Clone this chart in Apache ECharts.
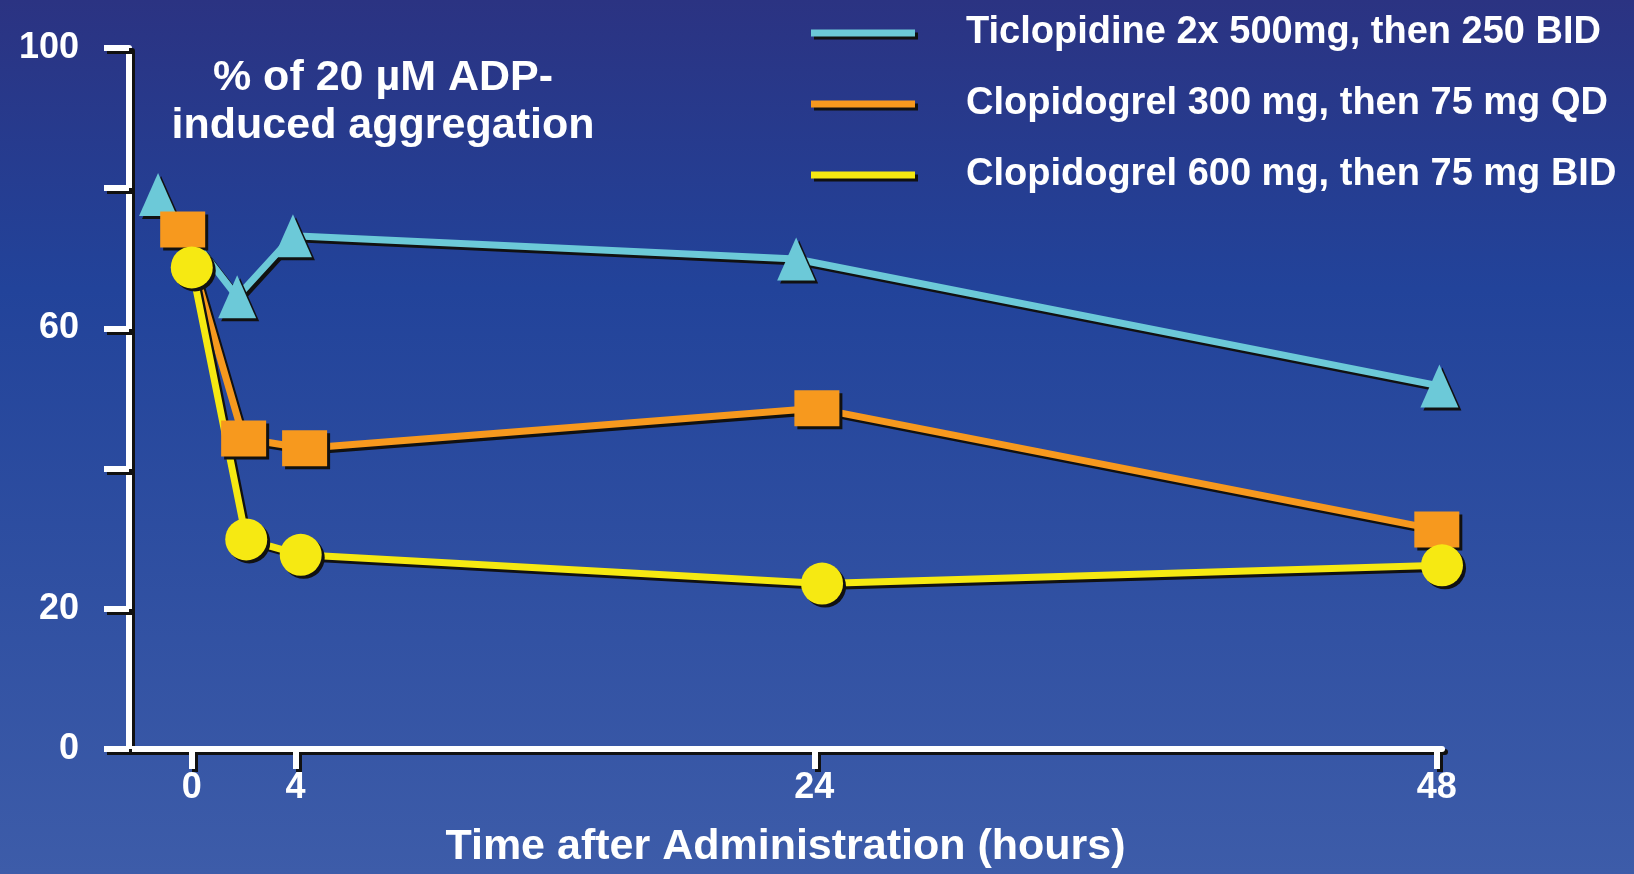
<!DOCTYPE html>
<html>
<head>
<meta charset="utf-8">
<script src="https://cdn.jsdelivr.net/npm/echarts@6/dist/echarts.min.js"></script>
<style>
  html, body { margin: 0; padding: 0; }
  #main { width: 1634px; height: 874px; }
</style>
</head>
<body>
<div id="main"></div>
<script>
// data (markers at each time point are slightly offset in x)
var seriesNames = [
    'Ticlopidine 2x 500mg, then 250 BID',
    'Clopidogrel 300 mg, then 75 mg QD',
    'Clopidogrel 600 mg, then 75 mg BID'
];
var ticloHours = [-1.3, 1.75, 3.9, 23.3, 48.1];
var ticloValues = [79.1, 64.5, 73.2, 69.9, 51.8];
var clopi300Hours = [-0.35, 2.0, 4.35, 24.1, 48.0];
var clopi300Values = [74.1, 44.3, 42.9, 48.6, 31.3];
var clopi600Hours = [0, 2.1, 4.2, 24.3, 48.2];
var clopi600Values = [68.7, 29.9, 27.7, 23.6, 26.2];
var xTicks = [0, 4, 24, 48];
var yLabelTicks = [0, 20, 60, 100];

function pairs(xs, ys) {
    return xs.map(function (x, i) { return [x, ys[i]]; });
}

var shadow = { shadowColor: '#111', shadowBlur: 0, shadowOffsetX: 3, shadowOffsetY: 3 };
var textShadow = { textShadowColor: '#111', textShadowBlur: 0, textShadowOffsetX: 2, textShadowOffsetY: 2 };
var boldFont = "'Liberation Sans', Arial, sans-serif";

function lineSeries(name, color, symbol, size, data) {
    return {
        name: name,
        type: 'line',
        data: data,
        clip: false,
        symbol: symbol,
        symbolSize: size,
        lineStyle: Object.assign({ color: color, width: 7 }, shadow),
        itemStyle: Object.assign({ color: color, opacity: 1 }, shadow)
    };
}

var myChart = echarts.init(document.getElementById('main'));
myChart.setOption({
    backgroundColor: {
        type: 'linear', x: 0, y: 0, x2: 0, y2: 1,
        colorStops: [
            { offset: 0, color: '#2b3382' },
            { offset: 0.33, color: '#22439a' },
            { offset: 1, color: '#3d5ca9' }
        ]
    },
    animation: false,
    title: {
        text: '% of 20 µM ADP-\ninduced aggregation',
        left: 378,
        top: 49,
        textAlign: 'center',
        textStyle: Object.assign({
            color: '#fff', fontFamily: boldFont, fontWeight: 'bold',
            fontSize: 43, lineHeight: 48
        }, textShadow)
    },
    legend: {
        data: seriesNames,
        orient: 'vertical',
        left: 806,
        top: 8,
        icon: 'rect',
        itemWidth: 104,
        itemHeight: 7,
        itemGap: 31,
        itemStyle: shadow,
        textStyle: Object.assign({
            color: '#fff', fontFamily: boldFont, fontWeight: 'bold',
            fontSize: 38, lineHeight: 40, padding: [0, 0, 0, 46]
        }, textShadow)
    },
    grid: { left: 129, right: 192, top: 48, bottom: 122 },
    xAxis: {
        type: 'value',
        min: -2.42,
        max: 48.2,
        splitLine: { show: false },
        name: 'Time after Administration (hours)',
        nameLocation: 'middle',
        nameGap: 77,
        nameTextStyle: Object.assign({
            color: '#fff', fontFamily: boldFont, fontWeight: 'bold', fontSize: 43
        }, textShadow),
        axisLine: { lineStyle: Object.assign({ color: '#fff', width: 6 }, shadow) },
        axisTick: {
            customValues: xTicks, length: 20,
            lineStyle: Object.assign({ color: '#fff', width: 6 }, shadow)
        },
        axisLabel: Object.assign({
            customValues: xTicks, margin: 21,
            color: '#fff', fontFamily: boldFont, fontWeight: 'bold', fontSize: 36
        }, textShadow)
    },
    yAxis: {
        type: 'value',
        min: 0,
        max: 100,
        interval: 20,
        splitLine: { show: false },
        axisLine: { show: true, onZero: false, lineStyle: Object.assign({ color: '#fff', width: 6 }, shadow) },
        axisTick: {
            show: true, length: 25,
            lineStyle: Object.assign({ color: '#fff', width: 6 }, shadow)
        },
        axisLabel: Object.assign({
            customValues: yLabelTicks, margin: 50,
            padding: [0, 0, 8, 0],
            color: '#fff', fontFamily: boldFont, fontWeight: 'bold', fontSize: 36
        }, textShadow)
    },
    series: [
        lineSeries(seriesNames[0], '#6cc9d8', 'triangle', [38, 43], pairs(ticloHours, ticloValues)),
        lineSeries(seriesNames[1], '#f7991e', 'rect', [45, 36], pairs(clopi300Hours, clopi300Values)),
        lineSeries(seriesNames[2], '#f6e912', 'circle', 42, pairs(clopi600Hours, clopi600Values))
    ]
});
</script>
</body>
</html>
